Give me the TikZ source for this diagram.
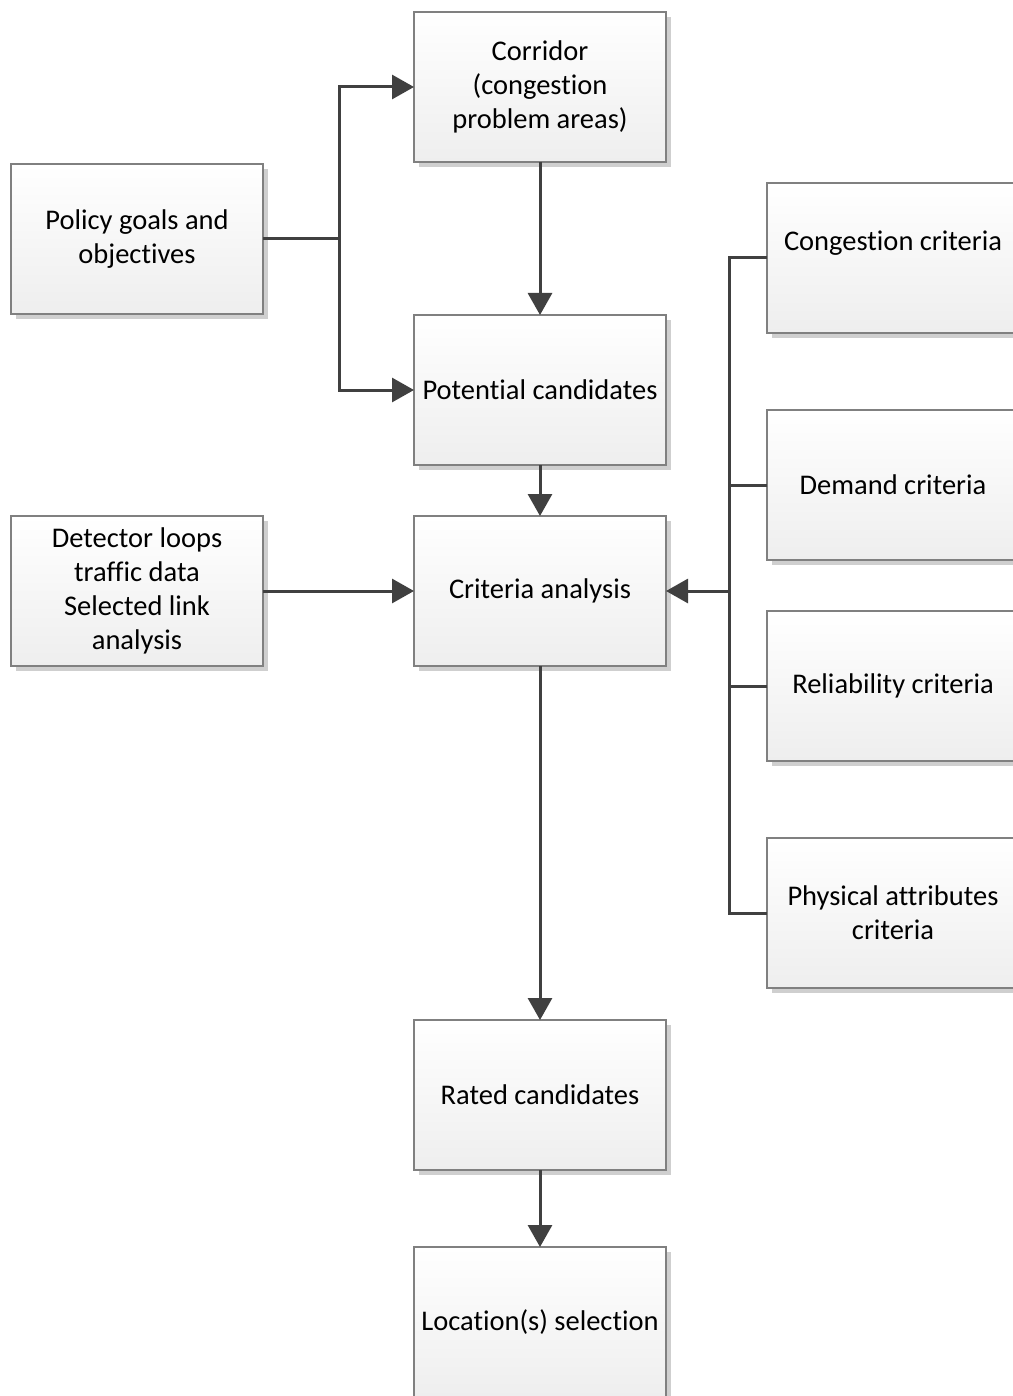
\documentclass[tikz,border=0pt]{standalone}
\usepackage{fontspec}
\setmainfont[Ligatures={NoCommon}]{Carlito}
\usetikzlibrary{arrows.meta,shadows}

\definecolor{boxedge}{HTML}{808080}
\definecolor{boxfill}{HTML}{EEEEEE}
\definecolor{shadowgray}{HTML}{CFCFCF}
\definecolor{linkcol}{HTML}{404040}

\tikzset{
  stepbox/.style={draw=boxedge, line width=1.3pt, top color=white, bottom color=boxfill,
    minimum width=252pt, minimum height=150pt, inner sep=0pt, outer sep=0pt, anchor=north west,
    align=center, font=\fontsize{28.5}{34}\selectfont,
    drop shadow={shadow xshift=5pt, shadow yshift=-5pt, fill=shadowgray, opacity=1}},
  link/.style={draw=linkcol, line width=3pt},
  arr/.style={link, -{Triangle[length=22pt,width=24pt]}}
}

\begin{document}
\begin{tikzpicture}[x=1pt,y=-1pt]
  \path[use as bounding box, fill=white] (0,0) rectangle (1012,1396);

  % left inputs
  \node[stepbox] (pol) at (11,164) {Policy goals and\\objectives};
  \node[stepbox] (det) at (11,516) {Detector loops\\traffic data\\Selected link\\analysis};

  % main column
  \node[stepbox] (cor) at (414,12) {Corridor\\(congestion\\problem areas)};
  \node[stepbox] (pot) at (414,315) {Potential candidates};
  \node[stepbox] (cri) at (414,516) {Criteria analysis};
  \node[stepbox] (rat) at (414,1020) {Rated candidates};
  \node[stepbox] (loc) at (414,1247) {Location(s) selection};

  % criteria column
  \node[stepbox, text depth=34pt] (con) at (767,183) {Congestion criteria};
  \node[stepbox] (dem) at (767,410) {Demand criteria};
  \node[stepbox] (rel) at (767,611) {Reliability criteria};
  \node[stepbox] (phy) at (767,838) {Physical attributes\\criteria};

  % policy branches to corridor and candidates
  \coordinate (pj) at (339,239);
  \draw[link] (pol.east) -- (pol.east -| pj);
  \draw[arr] (pol.east -| pj) |- (cor.west);
  \draw[arr] (pol.east -| pj) |- (pot.west);

  % main flow
  \draw[arr] (cor.south) -- (pot.north);
  \draw[arr] (pot.south) -- (cri.north);
  \draw[arr] (det.east) -- (cri.west);
  \draw[arr] (cri.south) -- (rat.north);
  \draw[arr] (rat.south) -- (loc.north);

  % criteria bus
  \coordinate (bus) at (729,591);
  \draw[link] (con.west) -- ++(-38,0) |- (phy.west);
  \draw[link] (dem.west) -- ++(-38,0);
  \draw[link] (rel.west) -- ++(-38,0);
  \draw[arr] (cri.east -| bus) -- (cri.east);
\end{tikzpicture}
\end{document}
